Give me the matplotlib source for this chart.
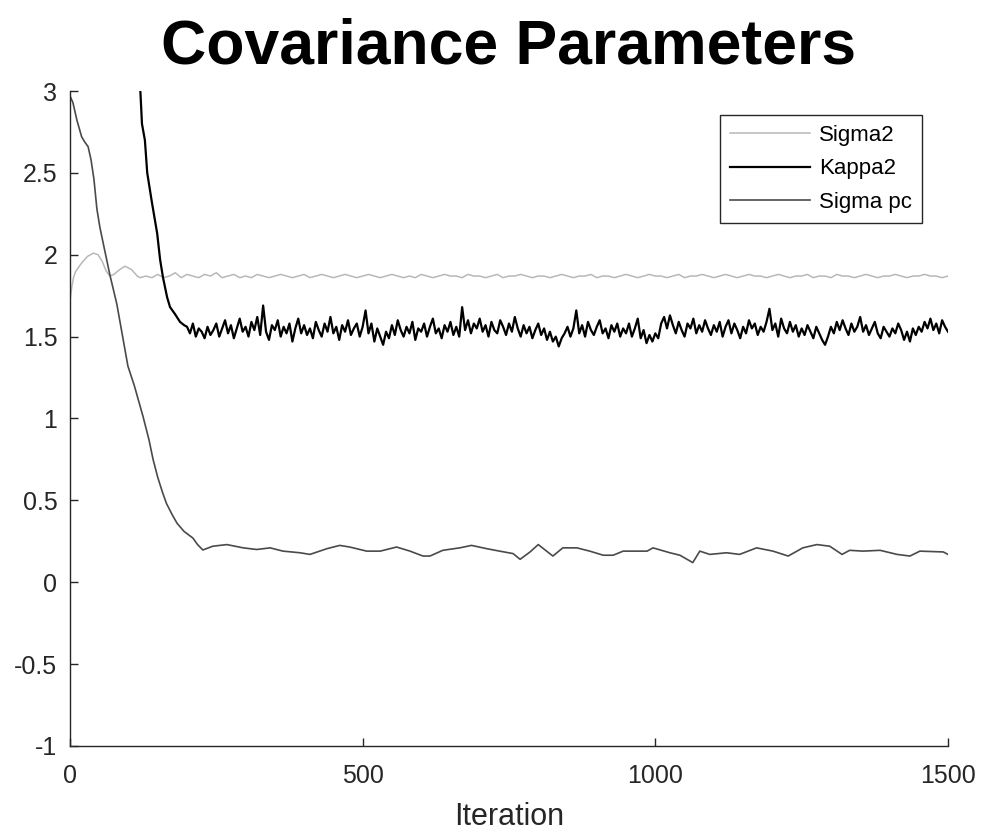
import numpy as np
from matplotlib import pyplot as plt

plt.rcParams['font.family'] = ['Liberation Sans', 'DejaVu Sans']

# Sigma2: start-up part, then one reading every 10 iterations
sig2_head_it = [0, 3, 6, 10, 20, 30, 40, 48, 55, 62, 68, 75, 85, 94, 105, 115, 120]
sig2_head = [1.72, 1.80, 1.86, 1.90, 1.95, 1.99, 2.01, 2.00, 1.96, 1.90, 1.87,
             1.88, 1.91, 1.93, 1.91, 1.87, 1.86]
sig2_tail_it = np.arange(130, 1501, 10)
sig2_tail = [1.87, 1.86, 1.88, 1.86, 1.87, 1.89, 1.86, 1.88, 1.87, 1.86,
             1.88, 1.87, 1.89, 1.86, 1.87, 1.88, 1.86, 1.87, 1.86, 1.88,
             1.87, 1.86, 1.87, 1.88, 1.87, 1.86, 1.87, 1.88, 1.86, 1.87,
             1.88, 1.87, 1.86, 1.87, 1.88, 1.87, 1.86, 1.87, 1.88, 1.87,
             1.86, 1.87, 1.88, 1.87, 1.86, 1.87, 1.86, 1.88, 1.87, 1.86,
             1.87, 1.88, 1.87, 1.87, 1.86, 1.88, 1.87, 1.87, 1.86, 1.87,
             1.88, 1.86, 1.87, 1.87, 1.88, 1.87, 1.86, 1.87, 1.87, 1.86,
             1.87, 1.88, 1.87, 1.86, 1.87, 1.87, 1.88, 1.86, 1.87, 1.87,
             1.86, 1.87, 1.88, 1.87, 1.86, 1.87, 1.88, 1.87, 1.87, 1.86,
             1.87, 1.88, 1.86, 1.87, 1.87, 1.88, 1.87, 1.86, 1.87, 1.88,
             1.87, 1.86, 1.87, 1.88, 1.87, 1.87, 1.86, 1.87, 1.88, 1.87,
             1.86, 1.87, 1.87, 1.88, 1.86, 1.87, 1.87, 1.86, 1.88, 1.87,
             1.87, 1.86, 1.87, 1.88, 1.87, 1.86, 1.87, 1.87, 1.88, 1.87,
             1.86, 1.87, 1.87, 1.88, 1.87, 1.87, 1.86, 1.87]

# Kappa2: burn-in drop (comes in from above the axis), then the noisy plateau every 5 iterations
kap_head_it = [112, 120, 123, 128, 132, 140, 149, 154, 159, 166, 171, 179, 188, 195]
kap_head = [3.30, 3.02, 2.80, 2.70, 2.50, 2.32, 2.13, 1.97, 1.86, 1.74, 1.68,
            1.64, 1.59, 1.57]
kap_tail_it = np.arange(200, 1501, 5)
kap_tail = [1.56, 1.52, 1.58, 1.50, 1.55, 1.53, 1.49, 1.56, 1.51, 1.54,
            1.58, 1.50, 1.55, 1.60, 1.52, 1.57, 1.49, 1.55, 1.61, 1.53,
            1.56, 1.50, 1.59, 1.54, 1.62, 1.51, 1.69, 1.53, 1.48, 1.57,
            1.54, 1.60, 1.50, 1.56, 1.52, 1.58, 1.47, 1.55, 1.61, 1.52,
            1.57, 1.51, 1.55, 1.49, 1.59, 1.54, 1.50, 1.58, 1.53, 1.62,
            1.52, 1.56, 1.48, 1.57, 1.53, 1.60, 1.51, 1.55, 1.58, 1.50,
            1.56, 1.66, 1.52, 1.58, 1.47, 1.55, 1.50, 1.45, 1.53, 1.49,
            1.57, 1.51, 1.60, 1.54, 1.50, 1.56, 1.52, 1.59, 1.48, 1.55,
            1.53, 1.58, 1.50, 1.56, 1.61, 1.52, 1.55, 1.49, 1.57, 1.53,
            1.59, 1.51, 1.56, 1.50, 1.68, 1.54, 1.60, 1.52, 1.58, 1.55,
            1.61, 1.53, 1.57, 1.50, 1.59, 1.54, 1.52, 1.60, 1.56, 1.51,
            1.58, 1.53, 1.62, 1.55, 1.50, 1.57, 1.52, 1.56, 1.49, 1.54,
            1.58, 1.51, 1.55, 1.48, 1.53, 1.47, 1.50, 1.44, 1.49, 1.52,
            1.56, 1.50, 1.55, 1.66, 1.52, 1.57, 1.50, 1.59, 1.54, 1.51,
            1.56, 1.60, 1.52, 1.55, 1.49, 1.57, 1.53, 1.58, 1.50, 1.55,
            1.52, 1.58, 1.50, 1.55, 1.61, 1.49, 1.54, 1.46, 1.51, 1.47,
            1.52, 1.49, 1.58, 1.62, 1.55, 1.63, 1.57, 1.52, 1.59, 1.54,
            1.50, 1.58, 1.55, 1.61, 1.52, 1.57, 1.53, 1.60, 1.55, 1.51,
            1.57, 1.53, 1.59, 1.50, 1.56, 1.60, 1.52, 1.58, 1.54, 1.49,
            1.56, 1.52, 1.60, 1.55, 1.58, 1.51, 1.56, 1.53, 1.59, 1.67,
            1.54, 1.58, 1.50, 1.61, 1.55, 1.52, 1.59, 1.53, 1.57, 1.50,
            1.55, 1.51, 1.57, 1.53, 1.49, 1.56, 1.52, 1.48, 1.45, 1.50,
            1.56, 1.52, 1.59, 1.54, 1.60, 1.55, 1.51, 1.58, 1.53, 1.56,
            1.62, 1.53, 1.57, 1.51, 1.55, 1.59, 1.52, 1.49, 1.56, 1.53,
            1.50, 1.55, 1.52, 1.58, 1.54, 1.48, 1.53, 1.47, 1.55, 1.51,
            1.56, 1.53, 1.59, 1.55, 1.61, 1.54, 1.58, 1.52, 1.60, 1.56,
            1.53]

# Sigma pc: read at uneven iterations
spc_it = [0, 5, 12, 20, 25, 31, 36, 41, 46, 51, 58, 68, 80, 90, 99, 110, 125,
          135, 142, 150, 158, 165, 175, 183, 195, 210, 218, 227, 244, 268, 296,
          319, 342, 364, 393, 410, 439, 461, 478, 507, 530, 558, 581, 603, 615,
          637, 666, 686, 712, 734, 757, 769, 786, 800, 825, 842, 866, 888, 911,
          928, 945, 962, 986, 996, 1025, 1042, 1064, 1076, 1093, 1122, 1144,
          1173, 1201, 1227, 1252, 1276, 1298, 1319, 1332, 1355, 1384, 1413,
          1435, 1452, 1492, 1500]
spc = [2.97, 2.93, 2.82, 2.72, 2.69, 2.66, 2.58, 2.46, 2.28, 2.17, 2.05, 1.88,
       1.70, 1.50, 1.32, 1.20, 1.01, 0.87, 0.75, 0.64, 0.55, 0.48, 0.41, 0.36,
       0.31, 0.27, 0.23, 0.197, 0.22, 0.23, 0.21, 0.20, 0.21, 0.19, 0.18, 0.17,
       0.205, 0.225, 0.215, 0.19, 0.19, 0.215, 0.19, 0.16, 0.16, 0.195, 0.21,
       0.225, 0.205, 0.19, 0.175, 0.14, 0.185, 0.23, 0.16, 0.21, 0.21, 0.19,
       0.165, 0.165, 0.19, 0.19, 0.19, 0.21, 0.18, 0.165, 0.12, 0.19, 0.17,
       0.18, 0.17, 0.21, 0.19, 0.16, 0.21, 0.23, 0.22, 0.17, 0.195, 0.19,
       0.195, 0.17, 0.16, 0.19, 0.185, 0.17]

x_ticks = [0, 500, 1000, 1500]
y_ticks = [-1, -0.5, 0, 0.5, 1, 1.5, 2, 2.5, 3]
y_labels = ['-1', '-0.5', '0', '0.5', '1', '1.5', '2', '2.5', '3']


def main():
    fig = plt.figure(figsize=(9.84, 8.38), dpi=100)
    ax = fig.add_axes([0.0711, 0.1098, 0.8923, 0.7816])

    ax.plot(list(sig2_head_it) + list(sig2_tail_it), sig2_head + sig2_tail,
            color='#b8b8b8', lw=1.1, label='Sigma2')
    ax.plot(list(kap_head_it) + list(kap_tail_it), kap_head + kap_tail,
            color='black', lw=1.6, label='Kappa2')
    ax.plot(spc_it, spc, color='#4a4a4a', lw=1.2, label='Sigma pc')

    ax.set_xlim(0, 1500)
    ax.set_ylim(-1, 3)
    ax.set_xticks(x_ticks)
    ax.set_yticks(y_ticks)
    ax.set_yticklabels(y_labels)

    for s in ['top', 'right']:
        ax.spines[s].set_visible(False)
    for s in ['left', 'bottom']:
        ax.spines[s].set_color('#262626')
        ax.spines[s].set_linewidth(1.0)
    ax.tick_params(direction='in', length=6, width=1.0, colors='#262626',
                   labelsize=18, pad=9)
    ax.tick_params(axis='x', pad=13)

    ax.set_xlabel('Iteration', fontsize=22, color='#262626', labelpad=10)
    ax.set_title('Covariance Parameters', fontsize=45, fontweight='bold', pad=20)

    leg = ax.legend(loc='upper right', bbox_to_anchor=(0.970, 0.963), fontsize=16,
                    handlelength=3.6, labelspacing=0.55, handletextpad=0.4,
                    borderpad=0.45, borderaxespad=0, fancybox=False, framealpha=1)
    leg.get_frame().set_edgecolor('#262626')
    leg.get_frame().set_linewidth(1.0)

    fig.savefig('out.png', dpi=100)


main()
